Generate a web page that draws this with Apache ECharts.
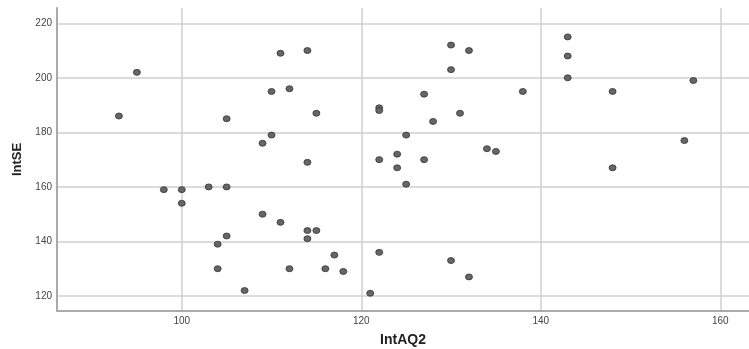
<!DOCTYPE html>
<html>
<head>
<meta charset="utf-8">
<script src="https://cdn.jsdelivr.net/npm/echarts@6/dist/echarts.min.js"></script>
<style>html,body{margin:0;padding:0;background:#fff}#c{width:749px;height:349px}</style>
</head>
<body>
<div id="c"></div>
<script>
const intAQ2 = [95, 93, 105, 98, 100, 100, 103, 105, 105, 104, 104, 107,
  111, 114, 110, 112, 115, 110, 109, 114,
  130, 132, 130, 127, 122, 122, 131, 128, 125, 134, 135, 124, 122, 127, 124,
  125, 109, 111, 114, 115, 114, 117, 122, 112, 116, 118, 121, 130, 132,
  143, 143, 143, 138, 148, 157, 156, 148];
const intSE = [202, 186, 185, 159, 159, 154, 160, 160, 142, 139, 130, 122,
  209, 210, 195, 196, 187, 179, 176, 169,
  212, 210, 203, 194, 189, 188, 187, 184, 179, 174, 173, 172, 170, 170, 167,
  161, 150, 147, 144, 144, 141, 135, 136, 130, 130, 129, 121, 133, 127,
  215, 208, 200, 195, 195, 199, 177, 167];
const xTicks = [100, 120, 140, 160];
const yTicks = [120, 140, 160, 180, 200, 220];

const points = intAQ2.map((x, i) => [x, intSE[i]]);
const chart = echarts.init(document.getElementById('c'), null, {renderer: 'canvas'});
chart.setOption({
  animation: false,
  grid: {left: 57, right: 0, top: 8, bottom: 38, containLabel: false, outerBoundsMode: 'none'},
  xAxis: {
    type: 'value', min: 86.1, max: 163.2, minInterval: 20, maxInterval: 20,
    name: 'IntAQ2', nameLocation: 'middle', nameGap: 22,
    nameTextStyle: {fontFamily: 'Liberation Sans', fontSize: 14, fontWeight: 'bold', color: '#222'},
    axisLine: {lineStyle: {color: '#aaa', width: 2}},
    axisTick: {show: false},
    axisLabel: {fontFamily: 'Liberation Sans', fontSize: 10, color: '#444', margin: 5,
      showMinLabel: false, showMaxLabel: false,
      formatter: v => xTicks.includes(v) ? String(v) : ''},
    splitLine: {show: true, showMinLine: false, showMaxLine: false, lineStyle: {color: '#cfcfcf', width: 1.5}}
  },
  yAxis: {
    type: 'value', min: 114.5, max: 225.6, minInterval: 20, maxInterval: 20,
    name: 'IntSE', nameLocation: 'middle', nameGap: 33, nameRotate: 90,
    nameTextStyle: {fontFamily: 'Liberation Sans', fontSize: 13, fontWeight: 'bold', color: '#222'},
    axisLine: {show: true, lineStyle: {color: '#aaa', width: 2}},
    axisTick: {show: false},
    axisLabel: {fontFamily: 'Liberation Sans', fontSize: 10, color: '#444', margin: 5,
      showMinLabel: false, showMaxLabel: false,
      formatter: v => yTicks.includes(v) ? String(v) : ''},
    splitLine: {show: true, showMinLine: false, showMaxLine: false, lineStyle: {color: '#cfcfcf', width: 1.5}}
  },
  series: [{
    type: 'scatter',
    data: points,
    symbol: 'circle',
    symbolSize: [7, 6],
    itemStyle: {color: '#666', borderColor: '#333', borderWidth: 0.8, opacity: 1}
  }]
});
</script>
</body>
</html>
